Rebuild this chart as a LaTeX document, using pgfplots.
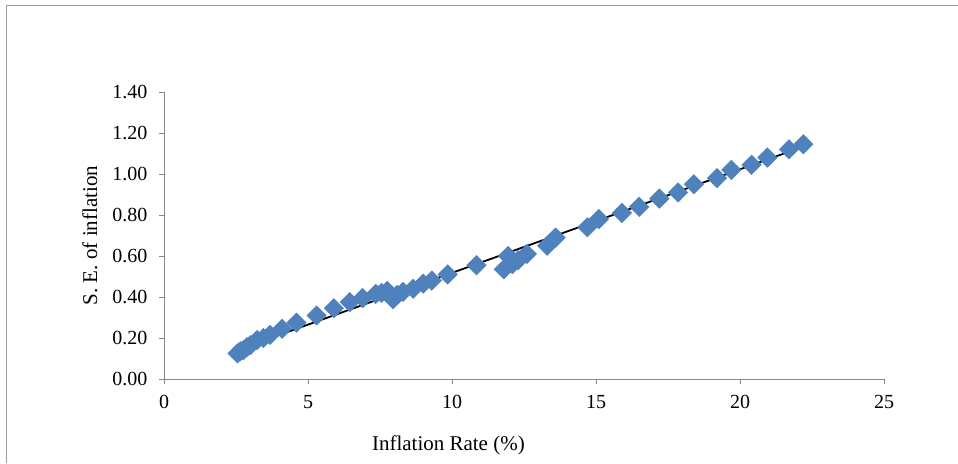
\documentclass[border=0pt]{standalone}
\usepackage{pgfplots}
\pgfplotsset{compat=1.18}
\usepackage{fontspec}
\setmainfont{Liberation Serif}
\definecolor{xlblue}{HTML}{4F81BD}
\definecolor{axgray}{HTML}{868686}
\begin{document}
\begin{tikzpicture}[x=1pt,y=1pt]
\useasboundingbox (0,0) rectangle (958,463);
\draw[axgray!80, line width=1pt] (6,0) -- (6,457) -- (958,457);
\begin{axis}[
  at={(164pt,84pt)}, anchor=south west,
  scale only axis, width=720pt, height=287pt,
  xmin=0, xmax=25, ymin=0, ymax=1.4,
  xtick={0,5,...,25}, ytick={0,0.2,...,1.4},
  axis lines=left, axis line style={axgray, line width=1pt, -},
  tick style={axgray, line width=0.8pt}, tick align=outside,
  major tick length=5pt,
  font=\fontsize{21}{24}\selectfont,
  tick label style={font=\fontsize{20}{23}\selectfont},
  /pgf/number format/assume math mode=true,
  yticklabel style={/pgf/number format/fixed, /pgf/number format/fixed zerofill, /pgf/number format/precision=2, xshift=-8pt},
  xticklabel style={/pgf/number format/fixed, yshift=-8pt},
  xlabel={Inflation Rate (\%)},
  ylabel={S. E. of inflation},
  xlabel style={at={(axis description cs:0.395,0)}, anchor=center, yshift=-66pt},
  ylabel style={at={(axis description cs:0,0.5)}, anchor=center, yshift=74pt},
  clip=false,
]
\addplot[only marks, mark=square*, mark size=6.9pt, mark options={rotate=45, fill=xlblue, draw=xlblue}] coordinates {
(2.55,0.125) (2.65,0.135) (2.75,0.14) (2.88,0.155) (3.0,0.165) (3.23,0.19)
(3.45,0.20) (3.68,0.215) (4.1,0.245) (4.6,0.275) (5.3,0.31) (5.9,0.345)
(6.45,0.375) (6.9,0.395) (7.35,0.415) (7.55,0.42) (7.75,0.43) (7.95,0.39)
(8.1,0.41) (8.3,0.425) (8.65,0.44) (9.0,0.465) (9.3,0.48) (9.85,0.51)
(10.85,0.555) (11.8,0.535) (11.95,0.60) (12.1,0.56) (12.3,0.58) (12.6,0.61)
(13.3,0.65) (13.6,0.69) (14.7,0.74) (15.1,0.78) (15.9,0.81) (16.5,0.84)
(17.2,0.88) (17.85,0.91) (18.4,0.95) (19.2,0.98) (19.7,1.02) (20.4,1.045)
(20.95,1.08) (21.7,1.12) (22.2,1.145)
};
\addplot[black, line width=1.8pt, no marks] coordinates {(2.6,0.144) (22.2,1.134)};
\end{axis}
\end{tikzpicture}
\end{document}
